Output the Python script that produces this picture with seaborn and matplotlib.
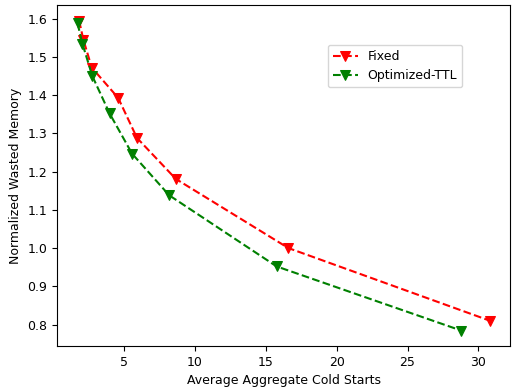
import numpy as np
import matplotlib
matplotlib.use("Agg")
import matplotlib.pyplot as plt
import pandas as pd
import seaborn as sns

plt.rcParams['font.size'] = 9

# Fixed TTL
fixed_x = [1.85, 2.15, 2.74, 4.6, 5.93, 8.66, 16.6, 30.8]
fixed_y = [1.595, 1.545, 1.472, 1.393, 1.288, 1.181, 1.0, 0.81]

# Optimized TTL
opt_x = [1.74, 2.08, 2.78, 4.0, 5.58, 8.2, 15.77, 28.8]
opt_y = [1.588, 1.535, 1.45, 1.352, 1.247, 1.138, 0.952, 0.784]

fig, ax = plt.subplots(figsize=(5.13, 3.92), dpi=100)

sns.lineplot(x=fixed_x, y=fixed_y, ax=ax, color='red', linestyle='--',
             marker='v', markersize=7, markeredgecolor='red', sort=False,
             label='Fixed')
sns.lineplot(x=opt_x, y=opt_y, ax=ax, color='green', linestyle='--',
             marker='v', markersize=7, markeredgecolor='green', sort=False,
             label='Optimized-TTL')

ax.set_xlabel('Average Aggregate Cold Starts')
ax.set_ylabel('Normalized Wasted Memory')
ax.legend(loc='upper right', bbox_to_anchor=(0.894, 0.883), borderaxespad=0)

fig.subplots_adjust(left=0.111, right=0.995, top=0.987, bottom=0.117)
fig.savefig('out.png', dpi=100)
